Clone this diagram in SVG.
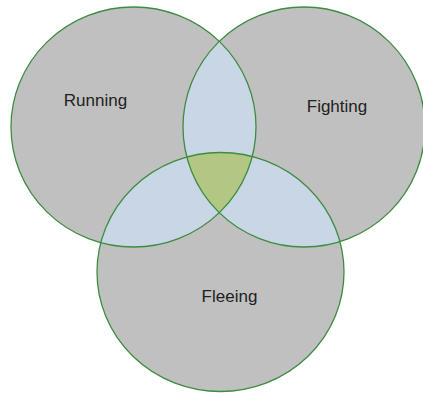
<svg xmlns="http://www.w3.org/2000/svg" width="423" height="393" viewBox="0 0 423 393">
  <style>
    .set { fill: #c0c0c0; stroke: none; }
    .pair { fill: #c8d6e5; stroke: none; }
    .triple { fill: #b3c784; stroke: none; }
    .outline { fill: none; stroke: #3d8c40; stroke-width: 1.3; }
    .label { font-family: "Liberation Sans", Arial, sans-serif; font-size: 17px; fill: #222222; text-anchor: middle; }
  </style>
  <defs>
    <ellipse id="shapeRunning" cx="133.5" cy="127" rx="122.5" ry="120"/>
    <ellipse id="shapeFighting" cx="304" cy="127" rx="121" ry="120"/>
    <ellipse id="shapeFleeing" cx="220.5" cy="272" rx="123.5" ry="119.5"/>
    <clipPath id="clipRunning"><use href="#shapeRunning"/></clipPath>
    <clipPath id="clipFighting"><use href="#shapeFighting"/></clipPath>
    <clipPath id="clipFleeing"><use href="#shapeFleeing"/></clipPath>
  </defs>
  <rect width="423" height="393" fill="#ffffff"/>
  <g id="running-fill"><use href="#shapeRunning" class="set"/></g>
  <g id="fighting-fill"><use href="#shapeFighting" class="set"/></g>
  <g id="fleeing-fill"><use href="#shapeFleeing" class="set"/></g>
  <g id="overlaps">
    <g clip-path="url(#clipRunning)"><use href="#shapeFighting" class="pair"/></g>
    <g clip-path="url(#clipRunning)"><use href="#shapeFleeing" class="pair"/></g>
    <g clip-path="url(#clipFighting)"><use href="#shapeFleeing" class="pair"/></g>
    <g clip-path="url(#clipRunning)"><g clip-path="url(#clipFighting)"><use href="#shapeFleeing" class="triple"/></g></g>
  </g>
  <g id="outlines">
    <use href="#shapeRunning" class="outline"/>
    <use href="#shapeFighting" class="outline"/>
    <use href="#shapeFleeing" class="outline"/>
  </g>
  <g id="running"><text class="label" x="95.5" y="106">Running</text></g>
  <g id="fighting"><text class="label" x="337" y="112">Fighting</text></g>
  <g id="fleeing"><text class="label" x="229.5" y="302">Fleeing</text></g>
</svg>
